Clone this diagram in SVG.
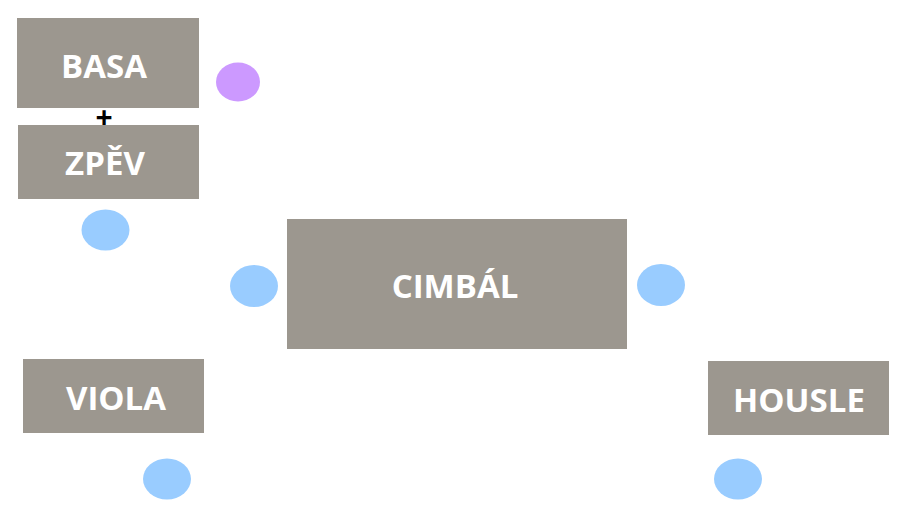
<svg xmlns="http://www.w3.org/2000/svg" width="905" height="517" viewBox="0 0 905 517">
<style>
.box{fill:#9C978F}
.lbl{font-family:"Open Sans","Liberation Sans",sans-serif;font-weight:bold;font-size:33px;fill:#FFFFFF;text-anchor:middle}
.blue{fill:#99CCFF}
.purple{fill:#CC99FF}
</style>
<rect width="905" height="517" fill="#FFFFFF"/>
<g id="basa"><rect class="box" x="17" y="18" width="182" height="90"/><text class="lbl" x="104" y="78">BASA</text></g>
<g id="zpev"><rect class="box" x="18" y="125" width="181" height="74"/><text class="lbl" x="105" y="175">ZPĚV</text></g>
<g id="plus"><text x="104" y="128" font-family="Open Sans, Liberation Sans, sans-serif" font-weight="bold" font-size="30" fill="#000000" text-anchor="middle">+</text></g>
<g id="cimbal"><rect class="box" x="287" y="219" width="340" height="130"/><text class="lbl" x="455" y="298">CIMBÁL</text></g>
<g id="viola"><rect class="box" x="23" y="359" width="181" height="74"/><text class="lbl" x="116" y="410">VIOLA</text></g>
<g id="housle"><rect class="box" x="708" y="361" width="181" height="74"/><text class="lbl" x="799" y="412">HOUSLE</text></g>
<g id="dots">
<ellipse class="purple" cx="238" cy="82" rx="22" ry="19.5"/>
<ellipse class="blue" cx="105.5" cy="230" rx="24" ry="20.5"/>
<ellipse class="blue" cx="254" cy="286" rx="24" ry="21"/>
<ellipse class="blue" cx="661" cy="285" rx="24" ry="21"/>
<ellipse class="blue" cx="167" cy="479" rx="24" ry="20.5"/>
<ellipse class="blue" cx="738" cy="479" rx="24" ry="20.5"/>
</g>
<g id="connectors"></g>
</svg>
